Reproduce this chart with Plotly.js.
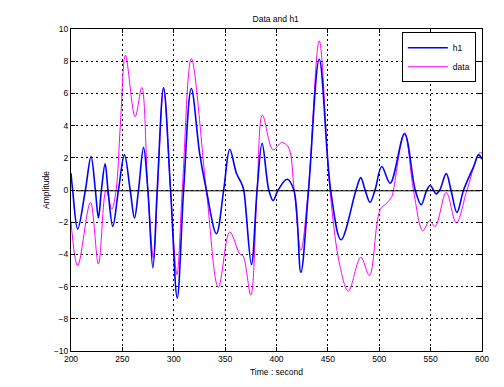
<!DOCTYPE html>
<html>
<head>
<meta charset="utf-8">
<script src="https://cdn.plot.ly/plotly-3.0.1.min.js"></script>
<style>html,body{margin:0;padding:0;background:#fff;}#chart{width:504px;height:387px;}</style>
</head>
<body>
<div id="chart"></div>
<script>
// h1 (blue)
var h1X = [200, 201.6, 206.5, 214, 219.5, 223.7, 226.7, 229.6, 233.2, 236, 240.7, 246.2, 252, 257.6, 261.8, 265.7, 270.6, 274.8, 279.7, 283.9, 290.1, 296.9, 303.4, 309.6, 317.1, 325.2, 331.7, 341.5, 348.6, 354.5, 361, 365.9, 368.1, 375.6, 381.1, 386, 392.5, 396.7, 401.6, 410.4, 416.9, 423.7, 431.2, 441.6, 452.7, 462.8, 477.4, 482, 486.2, 491, 495.9, 502.4, 510.6, 524.6, 535, 540.8, 546.3, 549.6, 552.7, 555.4, 558.9, 565.2, 569.8, 575.6, 582.1, 591.9, 596.7, 600];
var h1Y = [1.04, 0, -2.42, 0, 2.07, 0, -1.74, 0, 1.62, 0, -2.26, 0, 2.18, 0, -1.74, 0, 2.65, 0, -4.84, 0, 6.35, 0, -6.70, 0, 6.3, 2.28, 0, -2.71, 0, 2.53, 1.04, 0.42, 0, -4.63, 0, 2.9, 0, -0.65, 0, 0.67, 0, -5.11, 0, 8.12, 0, -3.09, 0, 0.77, 0, -0.77, 0, 1.46, 0.42, 3.48, 0, -0.92, 0, 0.28, 0, -0.24, 0, 1.02, 0, -1.39, 0, 1.46, 2.18, 1.91];

// data (magenta)
var dataX = [200, 206.5, 218.9, 226.7, 234.1, 239.7, 243.9, 248, 253, 262.4, 268.9, 274.8, 280.3, 284.2, 290.1, 296.9, 303.1, 308.3, 317.1, 331.7, 343.4, 354.5, 364.2, 367.5, 375, 381.1, 386.3, 396.7, 404.9, 411.4, 417.2, 423.7, 430.9, 441.6, 452, 461.8, 469.9, 482, 490.4, 500.8, 507.3, 512.2, 513.8, 524.6, 533.3, 542.4, 548.9, 554.4, 565.2, 575, 585.4, 597.7, 600];
var dataY = [-1.95, -4.7, -0.77, -4.6, 0, -1.19, 0, 4, 8.37, 4.55, 6.37, 0, -4.22, 0, 6.3, 0, -5.25, 0, 8.16, 0, -6.04, -2.61, -3.97, -4.1, -6.53, 0, 4.65, 2.49, 2.94, 2.69, 0, -3.75, 0, 9.26, 0, -4.74, -6.28, -4.18, -5.31, -1.23, -0.82, -0.4, 0, 3.56, 0, -2.53, -1.91, -2.26, -0.15, -2.05, 0, 2.32, 2.28];

// reference (black) line near zero
var refX = [205, 598];
var refY = [-0.05, -0.05];

var seriesNames = ['h1', 'data'];

var traces = [
  {x: dataX, y: dataY, name: seriesNames[1], type: 'scatter', mode: 'lines',
   line: {color: '#ff00ff', width: 1, shape: 'spline', smoothing: 1}},
  {x: h1X, y: h1Y, name: seriesNames[0], type: 'scatter', mode: 'lines',
   line: {color: '#0000ff', width: 1.6, shape: 'spline', smoothing: 1}},
  {x: refX, y: refY, type: 'scatter', mode: 'lines', showlegend: false,
   line: {color: '#000000', width: 1}}
];

var fontFam = 'Liberation Sans, Arial, Helvetica, sans-serif';
var gridDash = '2px,3px';
var layout = {
  width: 504, height: 387,
  margin: {l: 71, r: 22, t: 29, b: 36, pad: 0},
  paper_bgcolor: '#ffffff', plot_bgcolor: '#ffffff',
  font: {family: fontFam, size: 8.5, color: '#000'},
  title: {text: 'Data and h1', font: {family: fontFam, size: 8.5, color: '#000'}, x: 0.547, xanchor: 'center', y: 0.951, yanchor: 'middle'},
  showlegend: true,
  legend: {x: 0.805, y: 0.99, xanchor: 'left', yanchor: 'top', traceorder: 'reversed',
    bgcolor: '#ffffff', bordercolor: '#000', borderwidth: 1,
    font: {family: fontFam, size: 8.5, color: '#000'}, itemwidth: 40,
    entrywidth: 72, entrywidthmode: 'pixels'},
  xaxis: {range: [200, 600], dtick: 50, tick0: 200, showline: true, linecolor: '#000', linewidth: 1,
    mirror: 'ticks', ticks: 'inside', ticklen: 4, tickcolor: '#000',
    showgrid: true, gridcolor: '#000', griddash: gridDash, gridwidth: 1, zeroline: false,
    tickfont: {family: fontFam, size: 8.5, color: '#000'},
    title: {text: 'Time : second', font: {family: fontFam, size: 8.5, color: '#000'}, standoff: 5}},
  yaxis: {range: [-10, 10], dtick: 2, showline: true, linecolor: '#000', linewidth: 1,
    mirror: 'ticks', ticks: 'inside', ticklen: 4, tickcolor: '#000',
    showgrid: true, gridcolor: '#000', griddash: gridDash, gridwidth: 1, zeroline: false,
    tickfont: {family: fontFam, size: 8.5, color: '#000'},
    title: {text: 'Amplitude', font: {family: fontFam, size: 8.5, color: '#000'}, standoff: 2}}
};

Plotly.newPlot('chart', traces, layout, {displayModeBar: false, staticPlot: true});
</script>
</body>
</html>
